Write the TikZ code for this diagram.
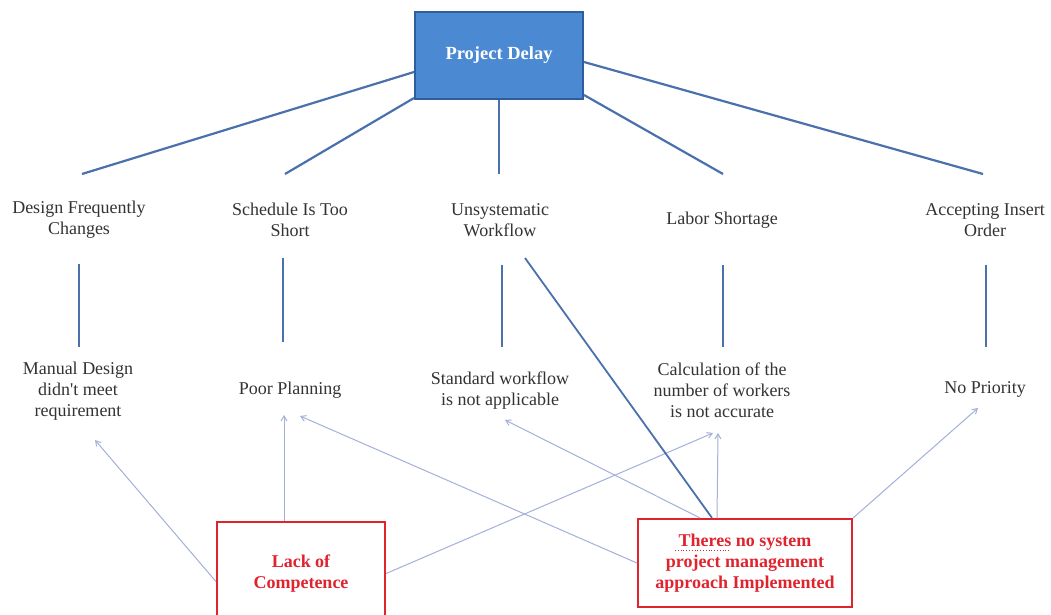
\documentclass[tikz,border=0pt]{standalone}
\usepackage{fontspec}
\setmainfont{Liberation Serif}
\usetikzlibrary{arrows.meta}
\definecolor{treeblue}{HTML}{4A70AE}
\definecolor{boxfill}{HTML}{4C89D3}
\definecolor{boxedge}{HTML}{2F5E9E}
\definecolor{arrowblue}{HTML}{A3B0DA}
\definecolor{causered}{HTML}{E0242E}
\definecolor{labelgray}{HTML}{333333}
\begin{document}
\begin{tikzpicture}[x=1pt,y=-1pt,
  treeline/.style={draw=treeblue,line width=2.2pt},
  link/.style={draw=arrowblue,line width=1pt,-{Straight Barb[length=5pt,width=6pt]}},
  label/.style={text=labelgray,align=center,inner sep=0pt,font=\fontsize{18}{21}\selectfont},
  rootbox/.style={draw=boxedge,fill=boxfill,line width=2pt,minimum width=168pt,minimum height=87pt,
    text=white,font=\fontsize{18.5}{21}\selectfont\bfseries},
  causebox/.style={draw=causered,line width=2.2pt,align=center,text=causered,
    font=\fontsize{18}{21}\selectfont\bfseries}
]
\useasboundingbox (0,0) rectangle (1051,615);
\clip (0,0) rectangle (1051,615);
\fill[white] (0,0) rectangle (1051,615);

% root
\node[rootbox] (pd) at (499,55.5) {Project Delay};

% first level causes
\node[label] (d1) at (79,220) {Design Frequently\\Changes};
\node[label] (d2) at (290,220) {Schedule Is Too\\Short};
\node[label] (d3) at (500,220) {Unsystematic\\Workflow};
\node[label] (d4) at (722,220) {Labor Shortage};
\node[label] (d5) at (985,220) {Accepting Insert\\Order};

% second level causes
\node[label] (m1) at (78,391) {Manual Design\\didn\textquotesingle t meet\\requirement};
\node[label] (m2) at (290,390) {Poor Planning};
\node[label] (m3) at (500,391) {Standard workflow\\is not applicable};
\node[label] (m4) at (722,390) {Calculation of the\\number of workers\\is not accurate};
\node[label] (m5) at (985,389) {No Priority};

% root causes
\node[causebox,minimum width=168pt,minimum height=103pt] (lack) at (301,573.5) {Lack of\\Competence};
\node[causebox,minimum width=214pt,minimum height=88pt] (sys) at (745,563) {Theres no system\\project management\\approach Implemented};
\draw[causered,line width=0.8pt,dotted] (675,550) -- (729,550);

% ends of the tree branches
\coordinate (b1) at (82,174);
\coordinate (b2) at (285,174);
\coordinate (b3) at (499,174);
\coordinate (b4) at (723,174);
\coordinate (b5) at (983,174);
\draw[treeline] ([yshift=-16.5pt]pd.west) -- (b1);
\draw[treeline] ([yshift=-42.5pt]pd.west) -- (b2);
\draw[treeline] (pd.south) -- (b3);
\draw[treeline] ([yshift=-39.5pt]pd.east) -- (b4);
\draw[treeline] ([yshift=-6.5pt]pd.east) -- (b5);

% vertical links between the levels
\coordinate (v1a) at (79,264);  \coordinate (v1b) at (79,347);
\coordinate (v2a) at (283,258); \coordinate (v2b) at (283,342);
\coordinate (v3a) at (502,265); \coordinate (v3b) at (502,347);
\coordinate (v4a) at (723,265); \coordinate (v4b) at (723,347);
\coordinate (v5a) at (986,265); \coordinate (v5b) at (986,347);
\draw[treeline] (v1a) -- (v1b);
\draw[treeline] (v2a) -- (v2b);
\draw[treeline] (v3a) -- (v3b);
\draw[treeline] (v4a) -- (v4b);
\draw[treeline] (v5a) -- (v5b);

% arrow tips below the second level
\coordinate (m1tip) at (95,440);
\coordinate (m2tipA) at (284,415);
\coordinate (m2tipB) at (300,416);
\coordinate (m3tip) at (505,420);
\coordinate (m4tipA) at (713,433);
\coordinate (m4tipB) at (718,433);
\coordinate (m5tip) at (978,408);
\coordinate (d3foot) at (525,258);

% links from Lack of Competence
\draw[link] ([yshift=-8pt]lack.west) -- (m1tip);
\draw[link] ([xshift=-17pt]lack.north) -- (m2tipA);
\draw[link] (lack.east) -- (m4tipA);

% links from the missing management approach
\draw[treeline,line width=1.8pt] ([xshift=-33pt]sys.north) -- (d3foot);
\draw[link] ([xshift=-45pt]sys.north) -- (m3tip);
\draw[link] ([xshift=-28pt]sys.north) -- (m4tipB);
\draw[link] (sys.west) -- (m2tipB);
\draw[link] (sys.north east) -- (m5tip);
\end{tikzpicture}
\end{document}
